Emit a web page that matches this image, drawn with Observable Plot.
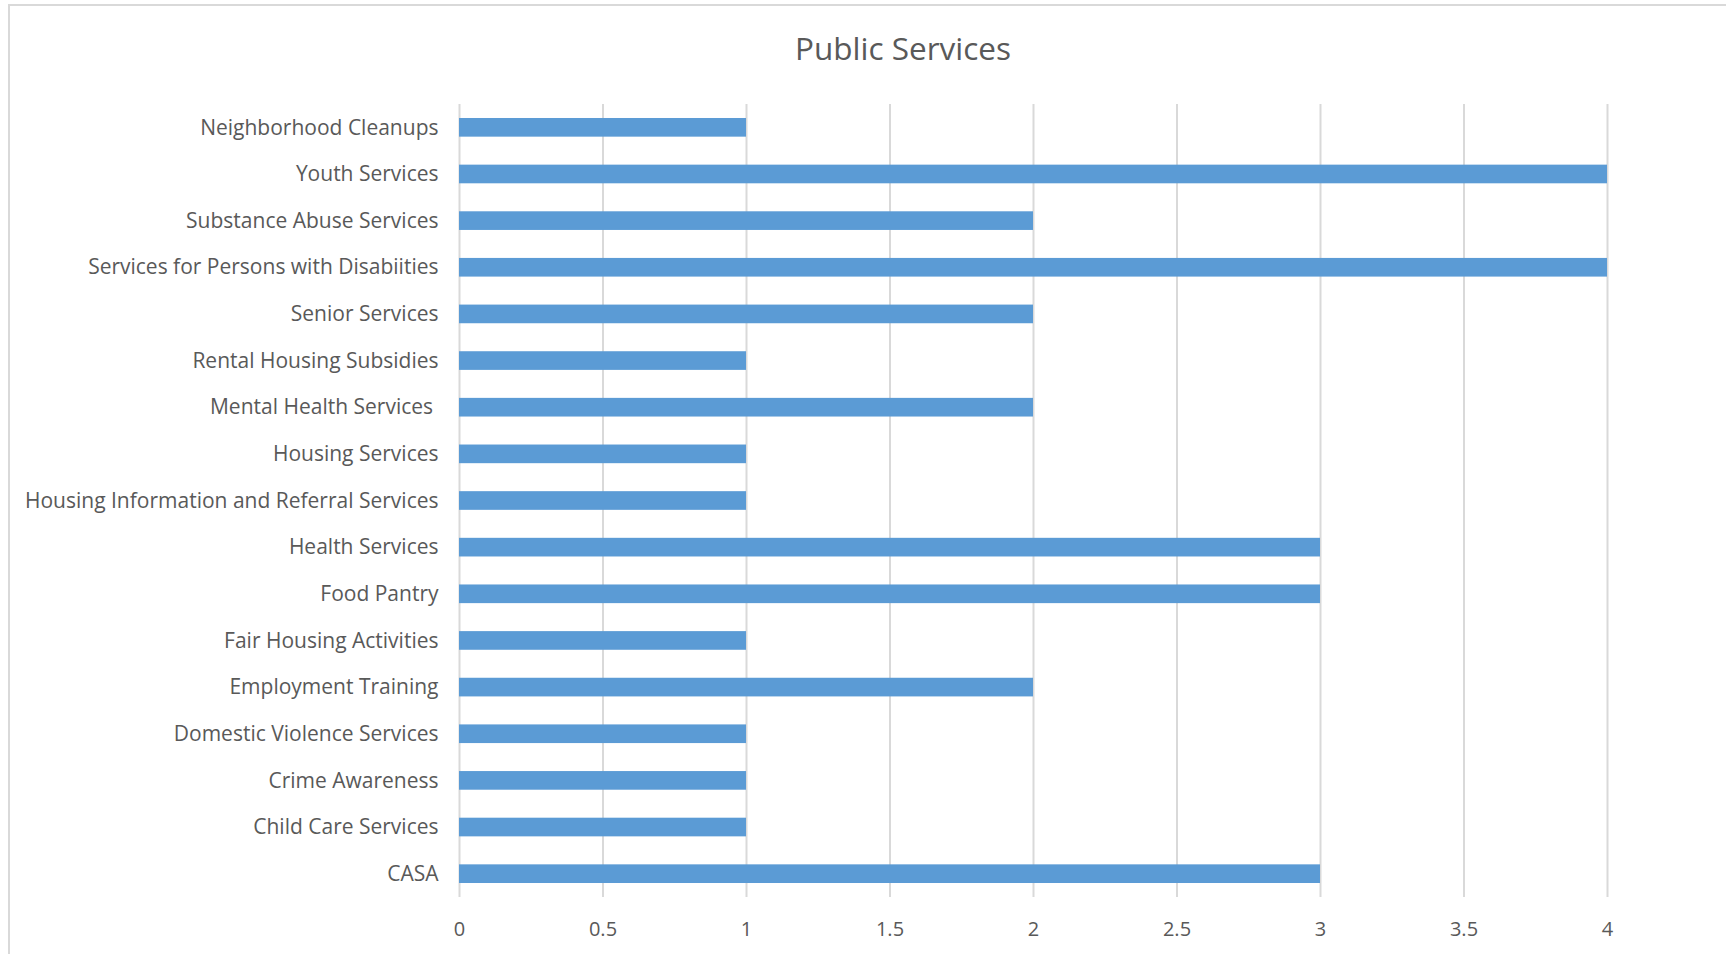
<!DOCTYPE html>
<html>
<head>
<meta charset="utf-8">
<script src="https://cdn.jsdelivr.net/npm/d3@7"></script>
<script src="https://cdn.jsdelivr.net/npm/@observablehq/plot@0.6"></script>
<style>
  html, body { margin: 0; padding: 0; background: #fff; }
  #wrap { position: relative; width: 1726px; height: 954px; overflow: hidden; font-family: "Open Sans", "Noto Sans", sans-serif; }
  #frame { position: absolute; left: 8px; top: 4px; width: 1730px; height: 960px; border-left: 2px solid #d9d9d9; border-top: 2px solid #d9d9d9; box-sizing: border-box; }
  #title { position: absolute; left: 0; top: 0; width: 1806px; height: 90px; line-height: 96px; text-align: center; font-size: 31.5px; color: #595959; }
  #chart { position: absolute; left: 0; top: 90px; }
  #chart text { white-space: pre; }
</style>
</head>
<body>
<div id="wrap">
  <div id="frame"></div>
  <div id="title">Public Services</div>
  <div id="chart"></div>
</div>
<script>
const categories = [
  "Neighborhood Cleanups",
  "Youth Services",
  "Substance Abuse Services",
  "Services for Persons with Disabiities",
  "Senior Services",
  "Rental Housing Subsidies",
  "Mental Health Services ",
  "Housing Services",
  "Housing Information and Referral Services",
  "Health Services",
  "Food Pantry",
  "Fair Housing Activities",
  "Employment Training",
  "Domestic Violence Services",
  "Crime Awareness",
  "Child Care Services",
  "CASA"
];
const values = [1, 4, 2, 4, 2, 1, 2, 1, 1, 3, 3, 1, 2, 1, 1, 1, 3];
const xTicks = [0, 0.5, 1, 1.5, 2, 2.5, 3, 3.5, 4];

const data = categories.map((c, i) => ({category: c, value: values[i]}));

const chart = Plot.plot({
  width: 1726,
  height: 864,
  marginLeft: 459,
  marginRight: 119,
  marginTop: 14,
  marginBottom: 57,
  style: {fontFamily: "'Open Sans', 'Noto Sans', sans-serif", fontSize: "21px", color: "#595959", background: "transparent"},
  x: {domain: [0, 4], label: null},
  y: {domain: categories, label: null, paddingInner: 0.6, paddingOuter: 0.3, round: false},
  marks: [
    Plot.gridX(xTicks, {stroke: "#d9d9d9", strokeOpacity: 1, strokeWidth: 2}),
    Plot.barX(data, {x: "value", y: "category", fill: "#5b9bd5"}),
    Plot.axisX({ticks: xTicks, tickSize: 0, tickPadding: 24, label: null, fill: "#595959", fontSize: 20, tickFormat: d => String(d)}),
    Plot.axisY({tickSize: 0, tickPadding: 21, label: null, fill: "#595959", fontSize: 21})
  ]
});
document.getElementById("chart").appendChild(chart);
</script>
</body>
</html>
